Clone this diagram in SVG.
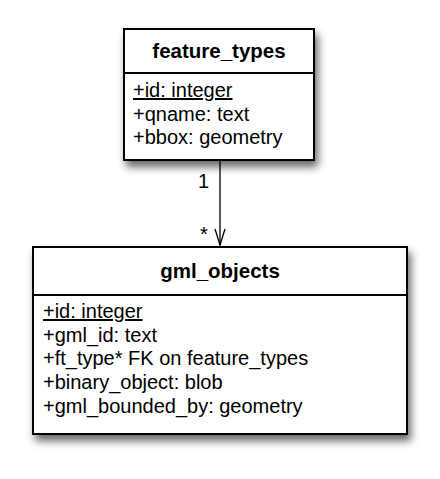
<svg xmlns="http://www.w3.org/2000/svg" width="440" height="479" viewBox="0 0 440 479">
<style>
.box{fill:#fff;stroke:#000;stroke-width:2}
.div{stroke:#000;stroke-width:2}
.title{font-family:"Liberation Sans",Arial,sans-serif;font-size:20.5px;font-weight:bold;text-anchor:middle;fill:#000}
.attr{font-family:"Liberation Sans",Arial,sans-serif;font-size:20px;fill:#000}
.lbl{font-family:"Liberation Sans",Arial,sans-serif;font-size:20px;fill:#000}
.conn{stroke:#000;stroke-width:1.3;fill:none}
</style>
<defs>
<filter id="sh" x="-20%" y="-20%" width="150%" height="150%">
<feDropShadow dx="3" dy="6" stdDeviation="4" flood-color="#000" flood-opacity="0.6"/>
</filter>
</defs>
<g id="feature_types">
<rect class="box" x="124" y="29" width="190" height="131" filter="url(#sh)"/>
<line class="div" x1="124" y1="73" x2="314" y2="73"/>
<text class="title" x="219" y="58">feature_types</text>
<text class="attr" x="133" y="97" text-decoration="underline">+id: integer</text>
<text class="attr" x="133" y="121">+qname: text</text>
<text class="attr" x="133" y="144">+bbox: geometry</text>
</g>
<g id="gml_objects">
<rect class="box" x="33" y="247" width="374" height="187" filter="url(#sh)"/>
<line class="div" x1="33" y1="295" x2="407" y2="295"/>
<text class="title" x="220" y="278">gml_objects</text>
<text class="attr" x="43" y="318" text-decoration="underline">+id: integer</text>
<text class="attr" x="43" y="342">+gml_id: text</text>
<text class="attr" x="43" y="365">+ft_type* FK on feature_types</text>
<text class="attr" x="43" y="389">+binary_object: blob</text>
<text class="attr" x="43" y="413">+gml_bounded_by: geometry</text>
</g>
<g id="connectors">
<line class="conn" x1="220" y1="161" x2="220" y2="245"/>
<polyline class="conn" points="215,229 220,245 225,229"/>
<text class="lbl" x="198" y="188">1</text>
<text class="lbl" x="200" y="241">*</text>
</g>
</svg>
